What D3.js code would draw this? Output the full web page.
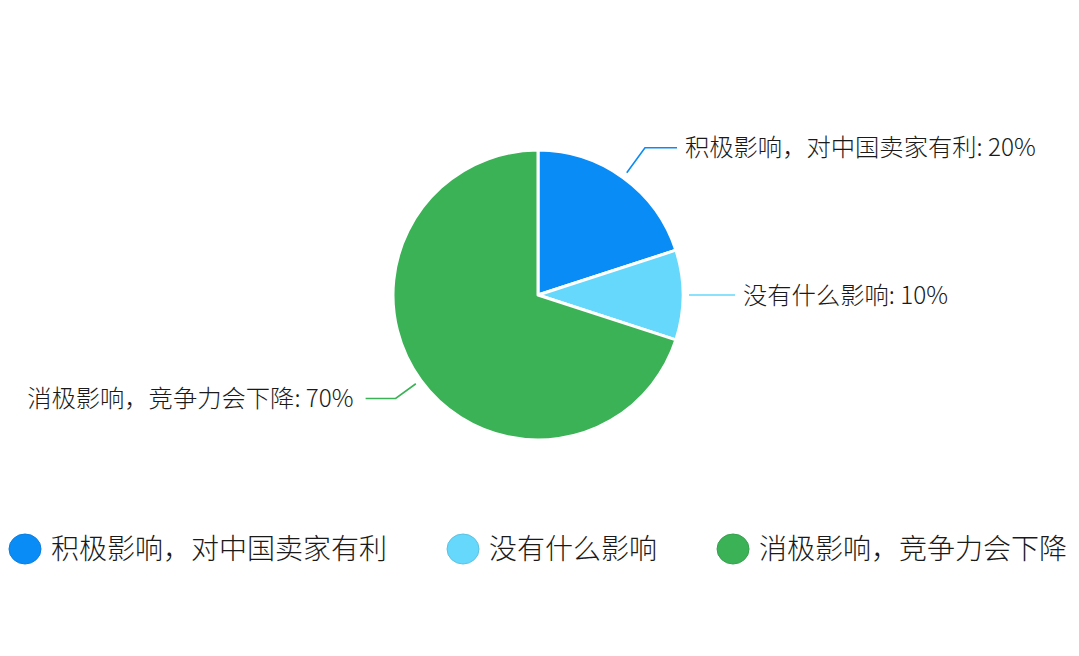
<!DOCTYPE html>
<html><head><meta charset="utf-8">
<script src="https://cdn.jsdelivr.net/npm/d3@7/dist/d3.min.js"></script>
<style>body{margin:0;background:#fff;}svg{display:block;font-family:"Noto Sans CJK SC","Noto Sans",sans-serif;}</style>
</head><body>
<svg id="c" width="1079" height="656"></svg>
<script>
const categories = ["积极影响，对中国卖家有利", "没有什么影响", "消极影响，竞争力会下降"];
const values = [20, 10, 70];
const colors = ["#0a8cf7", "#66d8fc", "#3bb256"];

const svg = d3.select("#c");
const cx = 538, cy = 295, R = 145;

const data = categories.map((c, i) => ({ name: c, value: values[i], color: colors[i] }));
const pie = d3.pie().value(d => d.value).sort(null);
const arcs = pie(data);
const arc = d3.arc().innerRadius(0).outerRadius(R);

const g = svg.append("g").attr("transform", `translate(${cx},${cy})`);
g.selectAll("path.slice").data(arcs).join("path")
  .attr("class", "slice")
  .attr("d", arc)
  .attr("fill", d => d.data.color)
  .attr("stroke", "#fff")
  .attr("stroke-width", 3)
  .attr("stroke-linejoin", "round");

// leader lines and labels
const r1 = R + 6;
arcs.forEach(a => {
  const mid = (a.startAngle + a.endAngle) / 2;
  const sx = Math.sin(mid), sy = -Math.cos(mid);
  const right = sx >= 0;
  const r2 = right ? R + 37 : R + 31;
  const p1 = [sx * r1, sy * r1];
  let p2 = [sx * r2, sy * r2];
  if (Math.abs(sy) < 0.05) p2 = [sx * (R + 20), 0];
  const p3 = [p2[0] + (right ? 32 : -30), p2[1]];
  if (Math.abs(sy) < 0.05) p3[0] = sx * (R + 52);
  g.append("polyline")
    .attr("points", [p1, p2, p3].map(p => p.join(",")).join(" "))
    .attr("fill", "none")
    .attr("stroke", a.data.color)
    .attr("stroke-width", 1.6);
  g.append("text")
    .attr("x", p3[0] + (right ? 8 : -12))
    .attr("y", p3[1])
    .attr("dy", "0.35em")
    .attr("text-anchor", right ? "start" : "end")
    .attr("font-size", 24.3)
    .attr("font-weight", 300)
    .attr("fill", "#1a1a1a")
    .text(`${a.data.name}: ${a.data.value}%`);
});

// legend
const lg = svg.append("g").attr("transform", "translate(0,549)");
let x = 25;
data.forEach((d, i) => {
  const item = lg.append("g").attr("transform", `translate(${x},0)`);
  item.append("ellipse").attr("rx", 16).attr("ry", 15).attr("fill", d.color)
    .attr("stroke", d3.color(d.color).darker(0.3)).attr("stroke-width", 1);
  const t = item.append("text").attr("x", 26).attr("dy", "0.35em")
    .attr("font-size", 28).attr("font-weight", 300).attr("fill", "#1a1a1a").text(d.name);
  const w = t.node().getComputedTextLength();
  x += 26 + w + 76;
});
</script>
</body></html>
